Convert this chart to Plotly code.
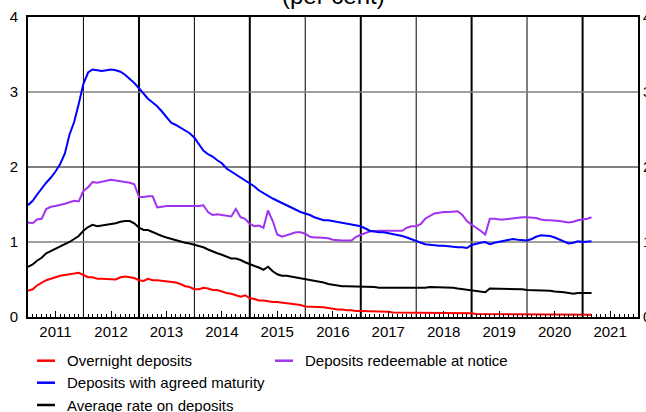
import pandas as pd
import plotly.graph_objects as go

# ---------------- data (monthly, Jan 2011 - Mar 2021) ----------------
dates = pd.date_range("2011-01-01", periods=123, freq="MS")

series_names = [
    "Overnight deposits",
    "Deposits redeemable at notice",
    "Deposits with agreed maturity",
    "Average rate on deposits",
]

overnight = [
    0.35, 0.37, 0.42, 0.46, 0.49, 0.51, 0.53, 0.55, 0.56, 0.57, 0.58, 0.59,
    0.56, 0.53, 0.53, 0.51, 0.51, 0.51, 0.50, 0.50, 0.53, 0.54, 0.53, 0.52,
    0.49, 0.48, 0.51, 0.49, 0.49, 0.48, 0.48, 0.47, 0.46, 0.44, 0.41, 0.40,
    0.37, 0.37, 0.39, 0.38, 0.36, 0.36, 0.34, 0.32, 0.31, 0.29, 0.27, 0.29,
    0.25, 0.24, 0.22, 0.22, 0.21, 0.20, 0.20, 0.19, 0.19, 0.18, 0.17, 0.16,
    0.14, 0.14, 0.14, 0.13, 0.13, 0.12, 0.11, 0.10, 0.10, 0.09, 0.09, 0.08,
    0.08, 0.08, 0.07, 0.07, 0.07, 0.07, 0.07, 0.06, 0.06, 0.06, 0.06, 0.06,
    0.06, 0.06, 0.06, 0.05, 0.05, 0.05, 0.05, 0.05, 0.05, 0.05, 0.05, 0.05,
    0.05, 0.04, 0.04, 0.04, 0.04, 0.04, 0.04, 0.04, 0.04, 0.04, 0.04, 0.04,
    0.04, 0.03, 0.03, 0.03, 0.03, 0.03, 0.03, 0.03, 0.03, 0.03, 0.03, 0.03,
    0.03, 0.03, 0.03,
]

redeemable = [
    1.26, 1.25, 1.30, 1.31, 1.44, 1.47, 1.48, 1.49, 1.51, 1.53, 1.55, 1.54,
    1.68, 1.73, 1.80, 1.79, 1.80, 1.82, 1.83, 1.82, 1.81, 1.80, 1.79, 1.77,
    1.60, 1.60, 1.61, 1.61, 1.46, 1.47, 1.48, 1.48, 1.48, 1.48, 1.48, 1.48,
    1.47, 1.48, 1.49, 1.40, 1.36, 1.37, 1.36, 1.35, 1.34, 1.44, 1.33, 1.31,
    1.24, 1.21, 1.22, 1.19, 1.42, 1.28, 1.10, 1.07, 1.09, 1.11, 1.13, 1.13,
    1.11, 1.07, 1.06, 1.06, 1.06, 1.05, 1.03, 1.02, 1.02, 1.02, 1.02, 1.07,
    1.10, 1.12, 1.14, 1.15, 1.15, 1.15, 1.15, 1.15, 1.15, 1.15, 1.19, 1.21,
    1.21, 1.24, 1.31, 1.35, 1.38, 1.39, 1.40, 1.40, 1.41, 1.41, 1.36, 1.28,
    1.23, 1.19, 1.15, 1.10, 1.31, 1.31, 1.30, 1.30, 1.31, 1.32, 1.32, 1.33,
    1.33, 1.33, 1.32, 1.30, 1.29, 1.29, 1.29, 1.28, 1.27, 1.26, 1.27, 1.29,
    1.30, 1.31, 1.33,
]

agreed = [
    1.49, 1.55, 1.63, 1.72, 1.79, 1.86, 1.94, 2.04, 2.18, 2.43, 2.60, 2.84,
    3.11, 3.26, 3.30, 3.29, 3.28, 3.29, 3.30, 3.29, 3.27, 3.23, 3.18, 3.12,
    3.05, 2.98, 2.91, 2.86, 2.81, 2.74, 2.67, 2.59, 2.56, 2.52, 2.49, 2.45,
    2.39, 2.30, 2.22, 2.17, 2.14, 2.09, 2.05, 1.98, 1.94, 1.90, 1.86, 1.83,
    1.79, 1.74, 1.69, 1.65, 1.61, 1.58, 1.55, 1.52, 1.50, 1.47, 1.43, 1.40,
    1.38, 1.36, 1.33, 1.31, 1.29, 1.29, 1.28, 1.27, 1.26, 1.25, 1.24, 1.23,
    1.21, 1.18, 1.15, 1.14, 1.13, 1.13, 1.12, 1.11, 1.09, 1.08, 1.06, 1.04,
    1.02, 0.99, 0.97, 0.96, 0.96, 0.95, 0.95, 0.94, 0.94, 0.93, 0.93, 0.92,
    0.96, 0.98, 0.99, 1.00, 0.97, 0.99, 1.00, 1.01, 1.02, 1.04, 1.03, 1.03,
    1.02, 1.04, 1.07, 1.09, 1.09, 1.08, 1.06, 1.03, 1.00, 0.98, 0.99, 1.01,
    1.00, 1.01, 1.01,
]

average = [
    0.67, 0.70, 0.75, 0.79, 0.85, 0.88, 0.91, 0.94, 0.96, 1.00, 1.04, 1.08,
    1.15, 1.20, 1.23, 1.21, 1.22, 1.23, 1.24, 1.25, 1.27, 1.28, 1.28, 1.25,
    1.19, 1.16, 1.16, 1.13, 1.10, 1.08, 1.06, 1.04, 1.03, 1.01, 0.99, 0.98,
    0.96, 0.95, 0.93, 0.90, 0.87, 0.85, 0.83, 0.81, 0.78, 0.78, 0.76, 0.73,
    0.71, 0.68, 0.66, 0.63, 0.67, 0.61, 0.57, 0.55, 0.55, 0.54, 0.53, 0.52,
    0.50, 0.49, 0.48, 0.47, 0.46, 0.44, 0.43, 0.42, 0.41, 0.41, 0.41, 0.41,
    0.41, 0.41, 0.41, 0.40, 0.39, 0.39, 0.39, 0.39, 0.38, 0.38, 0.39, 0.38,
    0.38, 0.39, 0.39, 0.40, 0.40, 0.40, 0.40, 0.39, 0.39, 0.38, 0.37, 0.36,
    0.35, 0.35, 0.34, 0.33, 0.38, 0.38, 0.37, 0.37, 0.37, 0.37, 0.37, 0.37,
    0.36, 0.36, 0.36, 0.36, 0.35, 0.35, 0.34, 0.34, 0.33, 0.32, 0.31, 0.32,
    0.32, 0.32, 0.32,
]

years = list(range(2011, 2022))
year_labels = [str(y) for y in years]
y_ticks = [0, 1, 2, 3, 4]

colors = ["#ff0000", "#a033f0", "#0000ff", "#000000"]
values = [overnight, redeemable, agreed, average]
# the last series is drawn on the mirrored right-hand axis (same scale)
axes_for = ["y", "y", "y", "y2"]

# ---------------- figure ----------------
W, H = 646, 412
ML, MR, MT, MB = 28, 8, 17, 95
PW, PH = W - ML - MR, H - MT - MB

def px_x(px):
    return (px - ML) / PW

def px_y(py):
    return (H - MB - py) / PH

FONT = "Liberation Sans, Arial, Helvetica, sans-serif"

fig = go.Figure()
for name, vals, col, ax in zip(series_names, values, colors, axes_for):
    fig.add_trace(go.Scatter(x=dates, y=vals, mode="lines", name=name,
                             yaxis=ax,
                             line=dict(color=col, width=2), showlegend=False))

shapes = []
# vertical year-boundary lines, alternating thin / thick
for i, y in enumerate(years[1:]):
    shapes.append(dict(type="line", xref="x", yref="paper",
                       x0=f"{y}-01-01", x1=f"{y}-01-01", y0=0, y1=1,
                       line=dict(color="black", width=1 if i % 2 == 0 else 2),
                       layer="below"))
# horizontal grid lines
for v in [1, 2, 3]:
    shapes.append(dict(type="line", xref="paper", yref="y", x0=0, x1=1,
                       y0=v, y1=v,
                       line=dict(color="black" if v == 2 else "#808080",
                                 width=1 if v == 2 else 1.5),
                       layer="below"))

# manual legend
legend_pos = [(37, 360.7), (275, 360.7), (37, 382.7), (37, 405)]
annotations = []
for (lx, ly), name, col in zip(legend_pos, series_names, colors):
    shapes.append(dict(type="line", xref="paper", yref="paper",
                       x0=px_x(lx), x1=px_x(lx + 18), y0=px_y(ly), y1=px_y(ly),
                       line=dict(color=col, width=2.5)))
    annotations.append(dict(text=name, xref="paper", yref="paper",
                            x=px_x(lx + 28), y=px_y(ly), xanchor="left",
                            yanchor="middle", showarrow=False,
                            font=dict(size=15, color="black", family=FONT)))

# cut-off title
annotations.append(dict(text="(per cent)", xref="paper", yref="paper",
                        x=0.5, y=px_y(-5), xanchor="center", yanchor="middle",
                        showarrow=False,
                        font=dict(size=24, color="black", family=FONT)))

fig.update_layout(
    width=W, height=H,
    margin=dict(l=ML, r=MR, t=MT, b=MB, pad=0, autoexpand=False),
    paper_bgcolor="white", plot_bgcolor="white",
    font=dict(family=FONT, size=15, color="black"),
    showlegend=False,
    shapes=shapes,
    annotations=annotations,
    xaxis=dict(
        range=["2011-01-01", "2022-01-01"],
        automargin=False,
        tickmode="array",
        tickvals=[f"{y}-07-01" for y in years],
        ticktext=year_labels,
        ticks="inside", ticklen=6, tickwidth=1, tickcolor="black",
        minor=dict(ticks="inside", ticklen=3, tickwidth=1, tickcolor="black",
                   dtick="M1", tick0="2011-01-01", showgrid=False),
        showgrid=False, zeroline=False,
        showline=True, linecolor="black", linewidth=1.5, mirror=True,
        tickfont=dict(size=15, color="black"),
    ),
    yaxis=dict(
        range=[0, 4], automargin=False,
        tickmode="array", tickvals=y_ticks,
        ticktext=[str(v) for v in y_ticks],
        ticks="", showgrid=False, zeroline=False,
        showline=True, linecolor="black", linewidth=2, mirror=True,
        tickfont=dict(size=15, color="black"),
        ticklabelstandoff=5,
    ),
    yaxis2=dict(
        range=[0, 4], automargin=False,
        overlaying="y", side="right", anchor="x",
        tickmode="array", tickvals=y_ticks,
        ticktext=[str(v) for v in y_ticks],
        ticks="", showgrid=False, zeroline=False, showline=False,
        tickfont=dict(size=15, color="black"),
        ticklabelstandoff=4,
    ),
)

fig.write_html(
    "out.html",
    config={"displayModeBar": False},
    post_script="document.body.style.margin='0';document.body.style.overflow='hidden';",
)
